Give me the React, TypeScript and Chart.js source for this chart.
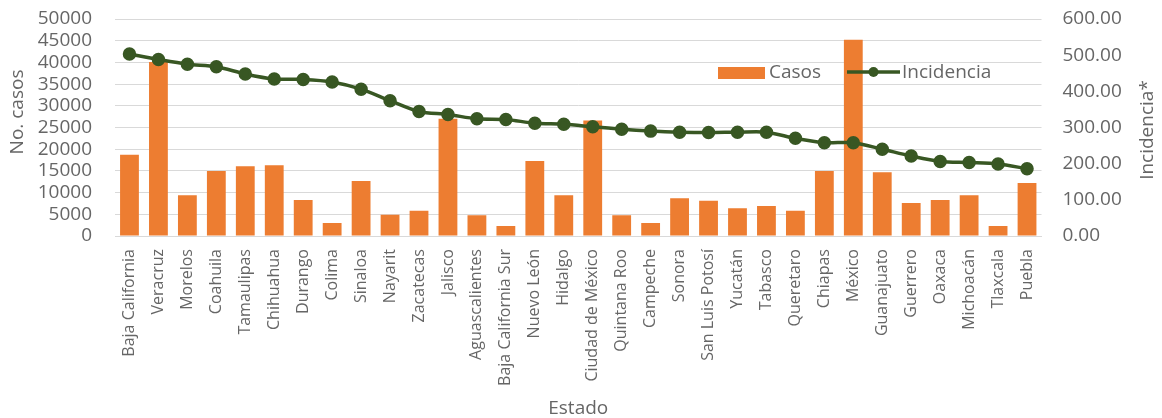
import { useEffect, useRef } from "react";
import { Chart, registerables } from "chart.js";

Chart.register(...registerables);

// Entidades federativas, ordenadas por incidencia
const estados = [
  "Baja California",
  "Veracruz",
  "Morelos",
  "Coahuila",
  "Tamaulipas",
  "Chihuahua",
  "Durango",
  "Colima",
  "Sinaloa",
  "Nayarit",
  "Zacatecas",
  "Jalisco",
  "Aguascalientes",
  "Baja California Sur",
  "Nuevo León",
  "Hidalgo",
  "Ciudad de México",
  "Quintana Roo",
  "Campeche",
  "Sonora",
  "San Luis Potosí",
  "Yucatán",
  "Tabasco",
  "Queretaro",
  "Chiapas",
  "México",
  "Guanajuato",
  "Guerrero",
  "Oaxaca",
  "Michoacán",
  "Tlaxcala",
  "Puebla",
];

// Número de casos por estado
const casos = [
  18700, 40100, 9400, 15000, 16100, 16300, 8300, 3000, 12700, 4900, 5800, 27000,
  4800, 2300, 17300, 9400, 26600, 4800, 3000, 8700, 8100, 6400, 6900, 5800,
  15000, 45200, 14700, 7600, 8300, 9400, 2300, 12200,
];

// Incidencia por estado
const incidencia = [
  503, 488, 475, 468, 448, 434, 433, 426, 406, 374, 344, 336, 324, 322, 312, 309,
  302, 295, 290, 287, 286, 287, 287, 270, 258, 258, 240, 221, 206, 203, 199, 186,
];

const FONT = '"Open Sans", "DejaVu Sans", sans-serif';
const TEXT = "#666666";
const GRID = "#d9d9d9";
const BAR = "#ED7D31";
const LINE = "#385723";

const legendPlugin = {
  id: "insideLegend",
  afterDatasetsDraw(chart: any) {
    const { ctx } = chart;
    const [bars, line] = chart.data.datasets;
    const y = 73;
    ctx.save();
    ctx.font = `19px ${FONT}`;
    ctx.textBaseline = "middle";
    ctx.textAlign = "left";
    ctx.fillStyle = BAR;
    ctx.fillRect(718, 67, 47, 12);
    ctx.fillStyle = TEXT;
    ctx.fillText(bars.label, 769, y);
    ctx.strokeStyle = LINE;
    ctx.fillStyle = LINE;
    ctx.lineWidth = 3.5;
    ctx.beginPath();
    ctx.moveTo(847, 72);
    ctx.lineTo(900, 72);
    ctx.stroke();
    ctx.beginPath();
    ctx.arc(873.5, 72, 5, 0, Math.PI * 2);
    ctx.fill();
    ctx.fillStyle = TEXT;
    ctx.fillText(line.label, 902, y);
    ctx.restore();
  },
};

const axisTitlePlugin = {
  id: "axisTitles",
  afterDraw(chart: any) {
    const { ctx, chartArea } = chart;
    ctx.save();
    ctx.fillStyle = TEXT;
    ctx.font = `19px ${FONT}`;
    ctx.textAlign = "center";
    ctx.textBaseline = "middle";

    ctx.save();
    ctx.translate(18, 112);
    ctx.rotate(-Math.PI / 2);
    ctx.fillText("No. casos", 0, 0);
    ctx.restore();

    ctx.save();
    ctx.translate(1148, 130);
    ctx.rotate(-Math.PI / 2);
    ctx.fillText("Incidencia*", 0, 0);
    ctx.restore();

    ctx.fillText("Estado", (chartArea.left + chartArea.right) / 2, 409);
    ctx.restore();
  },
};

export default function App() {
  const canvasRef = useRef<HTMLCanvasElement | null>(null);

  useEffect(() => {
    if (!canvasRef.current) return;
    const chart = new Chart(canvasRef.current, {
      data: {
        labels: estados,
        datasets: [
          {
            type: "bar",
            label: "Casos",
            data: casos,
            backgroundColor: BAR,
            yAxisID: "y",
            barPercentage: 0.65,
            categoryPercentage: 1,
            order: 2,
          },
          {
            type: "line",
            label: "Incidencia",
            data: incidencia,
            borderColor: LINE,
            backgroundColor: LINE,
            borderWidth: 3.5,
            pointRadius: 5,
            pointBackgroundColor: LINE,
            pointBorderColor: LINE,
            tension: 0.3,
            yAxisID: "y1",
            order: 1,
          },
        ],
      },
      options: {
        responsive: false,
        animation: false,
        layout: { padding: { top: 19, left: 0, right: 0, bottom: 0 } },
        plugins: {
          legend: { display: false },
          tooltip: { enabled: false },
        },
        scales: {
          x: {
            grid: { display: false, drawTicks: false },
            border: { display: true, color: GRID },
            ticks: {
              autoSkip: false,
              maxRotation: 90,
              minRotation: 90,
              padding: 13,
              color: TEXT,
              font: { family: FONT, size: 16 },
            },
            afterFit: (s: any) => {
              s.height = 182;
            },
          },
          y: {
            position: "left",
            min: 0,
            max: 50000,
            grid: { color: GRID, drawTicks: false },
            border: { display: false },
            ticks: {
              stepSize: 5000,
              autoSkip: false,
              padding: 23,
              color: TEXT,
              font: { family: FONT, size: 19 },
              callback: (v: any) => String(v),
            },
            afterFit: (s: any) => {
              s.width = 115;
              s.paddingTop = 0;
              s.paddingBottom = 0;
            },
          },
          y1: {
            position: "right",
            min: 0,
            max: 600,
            grid: { display: false, drawTicks: false },
            border: { display: false },
            ticks: {
              stepSize: 100,
              autoSkip: false,
              padding: 21,
              color: TEXT,
              font: { family: FONT, size: 19 },
              callback: (v: any) => Number(v).toFixed(2),
            },
            afterFit: (s: any) => {
              s.width = 120.5;
              s.paddingTop = 0;
              s.paddingBottom = 0;
            },
          },
        },
      },
      plugins: [legendPlugin, axisTitlePlugin],
    } as any);
    return () => chart.destroy();
  }, []);

  return (
    <div
      style={{
        position: "absolute",
        left: 0,
        top: 0,
        width: 1162,
        height: 418,
        background: "#ffffff",
      }}
    >
      <canvas ref={canvasRef} width={1162} height={418} />
    </div>
  );
}
